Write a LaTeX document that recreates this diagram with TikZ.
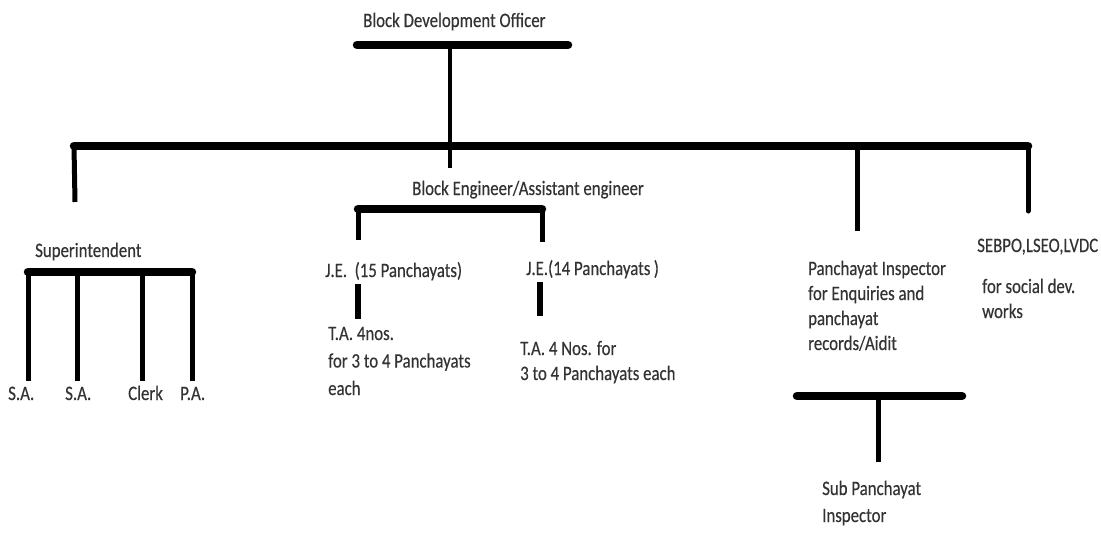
\documentclass[tikz,border=0pt]{standalone}
\usepackage{fontspec}
\setmainfont{Carlito}[FakeStretch=0.82,FakeBold=0.4]
\begin{document}
\begin{tikzpicture}[x=1pt,y=-1pt,
  lbl/.style={inner sep=0pt, anchor=base west, align=left, text=black!80,
    font=\fontsize{20.5}{25}\selectfont},
  bar/.style={line width=8.5pt, line cap=round},
  drop/.style={line width=5pt},
  thin/.style={line width=4pt}]
\useasboundingbox (0,0) rectangle (1101,533);
% text (multi-line nodes are placed at the baseline of their last line)
\node[lbl] (bdo) at (363,27) {Block Development Officer};
\node[lbl] (be) at (412,195) {Block Engineer/Assistant engineer};
\node[lbl] (sup) at (35,257) {Superintendent};
\node[lbl] (sa1) at (8,400) {S.A.};
\node[lbl] (sa2) at (65,400) {S.A.};
\node[lbl] (clerk) at (128,400) {Clerk};
\node[lbl] (pa) at (180,400) {P.A.};
\node[lbl] (je1) at (325,277) {J.E.\ \ (15 Panchayats)};
\node[lbl] (je2) at (526,275) {J.E.(14 Panchayats\,)};
\node[lbl, font=\fontsize{20.5}{27.5}\selectfont] (ta1) at (328,395) {T.A. 4nos.\\for 3 to 4 Panchayats\\each};
\node[lbl] (ta2) at (520,380) {T.A. 4 Nos. for\\3 to 4 Panchayats each};
\node[lbl] (pi) at (808,350) {Panchayat Inspector\\for Enquiries and\\panchayat\\records/Aidit};
\node[lbl] (seb) at (977,252) {SEBPO,LSEO,LVDC};
\node[lbl] (soc) at (982,318) {for social dev.\\works};
\node[lbl, font=\fontsize{20.5}{27}\selectfont] (spi) at (822,522) {Sub Panchayat\\Inspector};
% coordinates
\coordinate (bdoL) at (357,45); \coordinate (bdoR) at (568,45);
\coordinate (bdoM) at (450,45);
\coordinate (mainL) at (74,146); \coordinate (mainR) at (1028,146);
\coordinate (mainM) at (450,146); \coordinate (beTop) at (450,168);
\coordinate (supTop) at (75,202);
\coordinate (piMain) at (857,146); \coordinate (piTop) at (857,231);
\coordinate (sebTop) at (1028,211);
\coordinate (supL) at (28,272); \coordinate (supR) at (192,272);
\coordinate (beL) at (358,209); \coordinate (beR) at (542,209);
\coordinate (piL) at (797,396); \coordinate (piR) at (962,396);
\coordinate (spiTop) at (878,462);
% bars
\draw[bar] (bdoL) -- (bdoR);
\draw[bar] (mainL) -- (mainR);
\draw[bar] (supL) -- (supR);
\draw[bar] (beL) -- (beR);
\draw[bar] (piL) -- (piR);
% drops
\draw[thin] (bdoM) -- (beTop);
\draw[drop] (mainL) -- (supTop);
\draw[drop] (piMain) -- (piTop);
\draw[drop, line cap=round] (mainR) -- (sebTop);
\draw[drop] (supL) -- (28,381);
\draw[drop] (77,272) -- (77,381);
\draw[drop] (142,272) -- (142,381);
\draw[drop] (supR) -- (192,381);
\draw[drop] (beL) -- (358,240);
\draw[drop] (beR) -- (542,242);
\draw[line width=6pt] (358,284) -- (358,319);
\draw[line width=6pt] (540,282) -- (540,316);
\draw[drop] (878,396) -- (spiTop);
\end{tikzpicture}
\end{document}
